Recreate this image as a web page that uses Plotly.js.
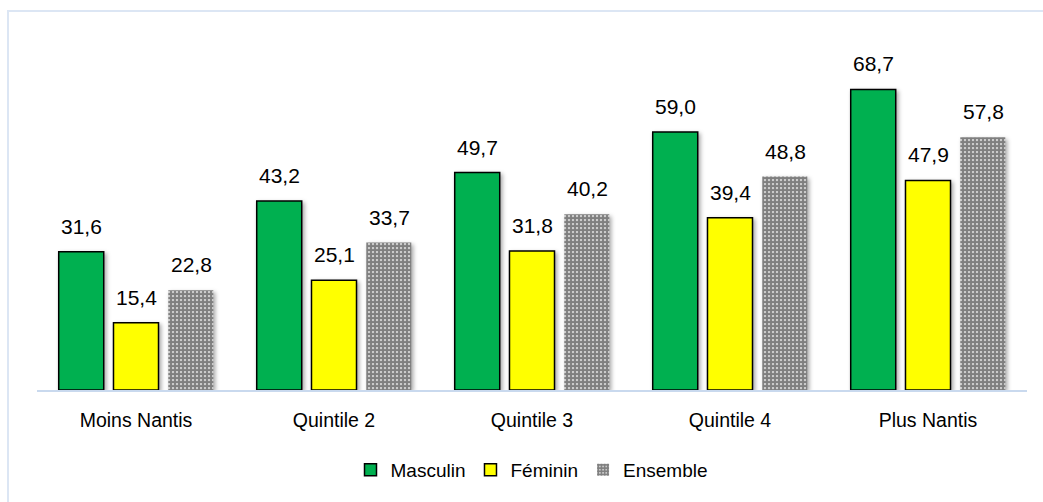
<!DOCTYPE html>
<html>
<head>
<meta charset="utf-8">
<script src="https://cdn.plot.ly/plotly-3.0.1.min.js"></script>
<style>
  html, body { margin: 0; padding: 0; background: #ffffff; overflow: hidden; }
  #wrap { position: relative; width: 1043px; height: 502px; }
  #frame { position: absolute; left: 7px; top: 10px; width: 1100px; height: 600px;
           border-left: 2px solid #DCE6F4; border-top: 2px solid #DCE6F4; box-sizing: border-box; }
  #chart { position: absolute; left: 0; top: 0; width: 1043px; height: 502px; }
  #chart .barlayer .point path { filter: drop-shadow(2px 2px 2px rgba(0,0,0,0.35)); }
</style>
</head>
<body>
<div id="wrap">
  <div id="frame"></div>
  <div id="chart"></div>
</div>
<script>
const categories = ["Moins Nantis", "Quintile 2", "Quintile 3", "Quintile 4", "Plus Nantis"];
const masculin = [31.6, 43.2, 49.7, 59.0, 68.7];
const feminin  = [15.4, 25.1, 31.8, 39.4, 47.9];
const ensemble = [22.8, 33.7, 40.2, 48.8, 57.8];
const seriesNames = ["Masculin", "Féminin", "Ensemble"];

const fmt = v => v.toFixed(1).replace(".", ",");

const traces = [
  { type: "bar", name: seriesNames[0], x: categories, y: masculin,
    marker: { color: "#00B050", line: { color: "#000000", width: 1.5 } }, hoverinfo: "none" },
  { type: "bar", name: seriesNames[1], x: categories, y: feminin,
    marker: { color: "#FFFF00", line: { color: "#000000", width: 1.5 } }, hoverinfo: "none" },
  { type: "bar", name: seriesNames[2], x: categories, y: ensemble,
    marker: { color: "#ffffff", line: { color: "#000000", width: 0 },
      pattern: { shape: ".", fgcolor: "#000000", bgcolor: "#ffffff", size: 4, solidity: 0.8, fillmode: "overlay" } },
    hoverinfo: "none" }
];

const shifts = [-55, 0, 55];
const seriesVals = [masculin, feminin, ensemble];
const annotations = [];
seriesVals.forEach((vals, s) => {
  vals.forEach((v, i) => {
    annotations.push({
      x: categories[i], y: v, xref: "x", yref: "y",
      text: fmt(v), showarrow: false, xshift: shifts[s], yshift: 12,
      yanchor: "bottom", xanchor: "center",
      font: { family: "Liberation Sans, Arial", size: 21, color: "#000000" }
    });
  });
});

const layout = {
  width: 1043, height: 502,
  margin: { l: 37, r: 16, t: 40, b: 112 },
  paper_bgcolor: "rgba(0,0,0,0)",
  plot_bgcolor: "rgba(0,0,0,0)",
  font: { family: "Liberation Sans, Arial, sans-serif", size: 19.5, color: "#000000" },
  barmode: "group",
  bargap: 0.17,
  bargroupgap: 0.178,
  showlegend: true,
  legend: { orientation: "h", x: 0.5, xanchor: "center", y: -0.228, yanchor: "middle",
            font: { size: 19, color: "#000000" }, itemwidth: 30, traceorder: "normal" },
  xaxis: { type: "category", showline: true, linecolor: "#C9D9EE", linewidth: 2,
           ticks: "", showgrid: false, zeroline: false, ticklabelstandoff: 12,
           tickfont: { size: 19.5, color: "#000000" } },
  yaxis: { range: [0, 80], visible: false, showgrid: false, zeroline: false },
  annotations: annotations
};

Plotly.newPlot("chart", traces, layout, { staticPlot: true, displayModeBar: false });
</script>
</body>
</html>
